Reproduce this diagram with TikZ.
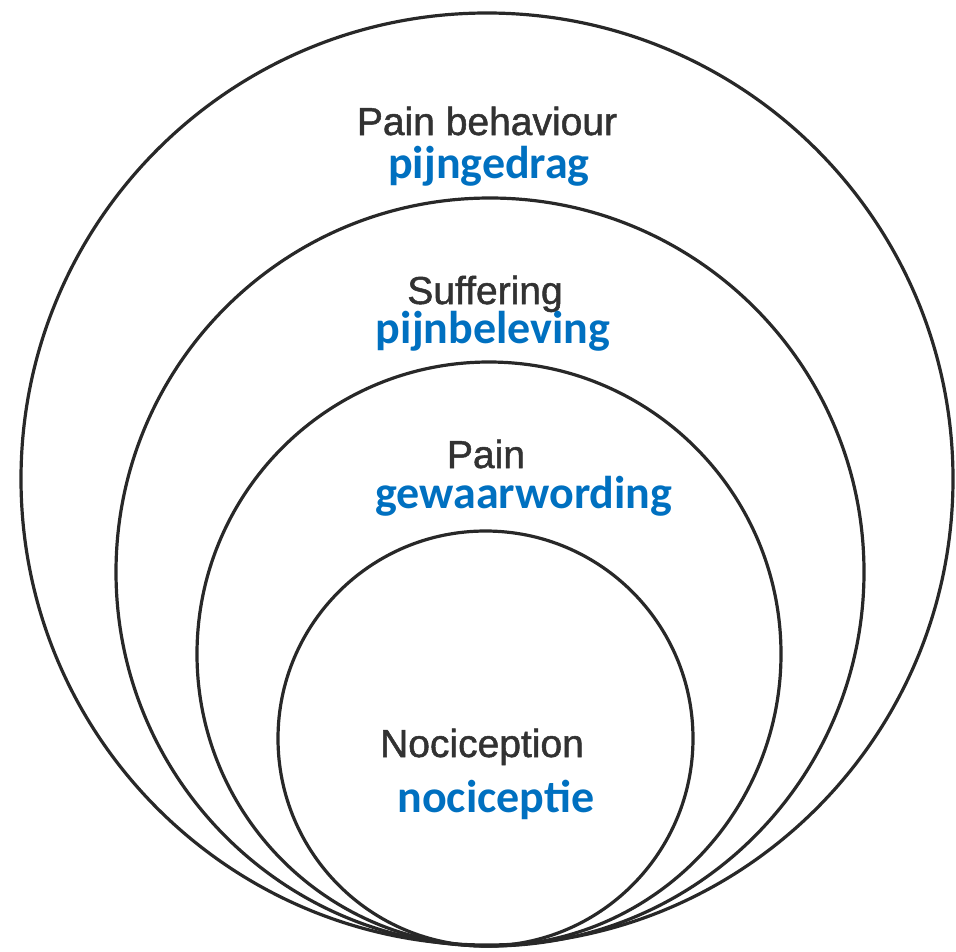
\documentclass[tikz,border=0pt]{standalone}
\usepackage{fontspec}
\newfontfamily\grayfont[FakeBold=1.3]{Liberation Sans}
\newfontfamily\bluefont[UprightFont={* Bold}]{Carlito}
\definecolor{dutchblue}{RGB}{0,112,192}
\definecolor{ringgray}{RGB}{40,40,40}
\definecolor{labelgray}{RGB}{50,50,50}
\begin{document}
\begin{tikzpicture}[x=1pt,y=-1pt,
  ring/.style={circle,draw=ringgray,line width=3.2pt,inner sep=0pt},
  englabel/.style={anchor=base,inner sep=0pt,text=labelgray,font=\grayfont\fontsize{39}{44}\selectfont},
  dutchlabel/.style={anchor=base,inner sep=0pt,text=dutchblue,font=\bluefont\fontsize{46}{52}\selectfont}]
\useasboundingbox (0,0) rectangle (956,951);
\node[ring,minimum size=932pt] (behaviour) at (487,479) {};
\node[ring,minimum size=748pt] (suffering) at (490,572) {};
\node[ring,minimum size=584pt] (pain) at (489,654) {};
\node[ring,minimum size=415pt] (nociception) at (485.5,738.5) {};
\node[englabel] (tbehaviour) at (487,135) {Pain behaviour};
\node[dutchlabel] (tpijngedrag) at (489,178) {pijngedrag};
\node[englabel] (tsuffering) at (485,304) {Suffering};
\node[dutchlabel] (tpijnbeleving) at (493,343) {pijnbeleving};
\node[englabel] (tpain) at (486,468) {Pain};
\node[dutchlabel] (tgewaar) at (524,508) {gewaarwording};
\node[englabel] (tnoci) at (482,757) {Nociception};
\node[dutchlabel] (tnociceptie) at (496,812) {nociceptie};
\end{tikzpicture}
\end{document}
